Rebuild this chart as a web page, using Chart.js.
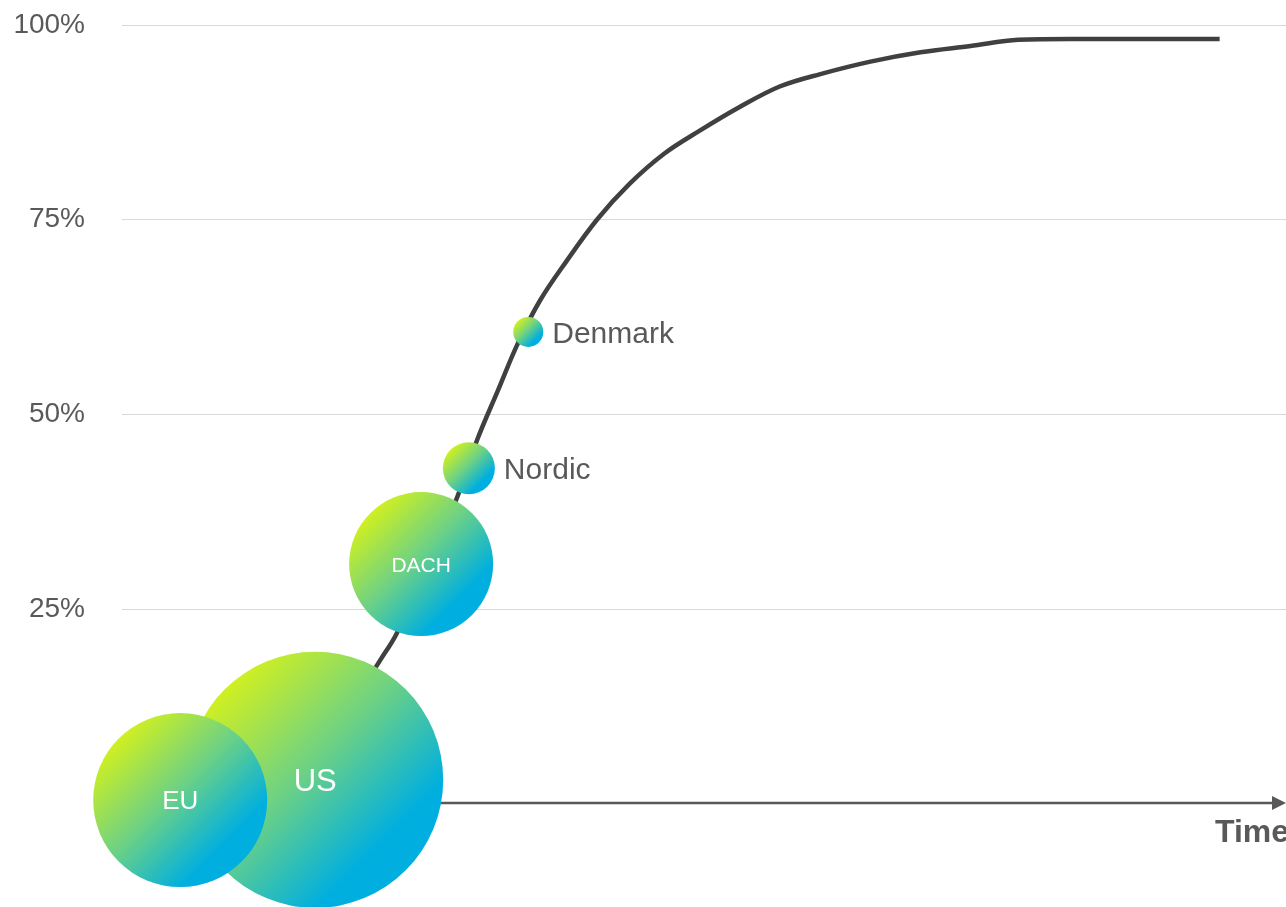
<!DOCTYPE html>
<html>
<head>
<meta charset="utf-8">
<script src="https://cdn.jsdelivr.net/npm/chart.js@4.4.1/dist/chart.umd.min.js"></script>
<style>
  html, body { margin: 0; padding: 0; background: #ffffff; }
  #wrap { width: 1286px; height: 907px; }
</style>
</head>
<body>
<div id="wrap"><canvas id="curva" width="1286" height="907"></canvas></div>
<script>
// Mercados (burbujas)
const regiones = ['US', 'EU', 'DACH', 'Nordic', 'Denmark'];
const regionTiempo = [16.6, 5.0, 25.7, 29.8, 34.9];
const regionCobertura = [3.1, 0.5, 30.8, 43.1, 60.6];
const regionTamano = [128, 87, 72, 26, 15];

// Curva de adopción
const curvaTiempo = [20.7, 22.2, 23.6, 26.3, 28.8, 30.5, 32.3, 34.0, 35.9, 38.1, 40.8, 43.6, 46.6, 49.6, 53.1, 56.5, 60.0, 64.3, 68.6, 72.9, 77.0, 85.6, 94.3];
const curvaCobertura = [15.0, 18.5, 21.9, 30.9, 39.4, 46.7, 53.1, 59.1, 64.6, 69.5, 75.0, 79.6, 83.5, 86.4, 89.5, 92.1, 93.7, 95.3, 96.5, 97.3, 98.1, 98.2, 98.2];

// Eje Y
const ticksY = [25, 50, 75, 100];
const etiquetasY = ['25%', '50%', '75%', '100%'];
const tituloX = 'Time';

const gris = '#595959';
const fuente = '"Liberation Sans", Arial, sans-serif';

// degradado por burbuja (verde lima -> azul)
function degradado(context) {
  const chart = context.chart;
  if (!chart.chartArea || context.raw == null) return '#5ccb90';
  const cx = chart.scales.x.getPixelForValue(context.raw.x);
  const cy = chart.scales.y.getPixelForValue(context.raw.y);
  const r = context.raw.r * 0.72;
  const g = chart.ctx.createLinearGradient(cx - r, cy - r, cx + r, cy + r);
  g.addColorStop(0, '#d2f01f');
  g.addColorStop(0.45, '#6cd185');
  g.addColorStop(0.85, '#00afdf');
  g.addColorStop(1, '#00aee0');
  return g;
}

// flecha del eje X y título "Time"
const ejeFlecha = {
  id: 'ejeFlecha',
  beforeDatasetsDraw(chart) {
    const ctx = chart.ctx;
    const y0 = chart.scales.y.getPixelForValue(0) - 1;
    const x0 = chart.chartArea.left;
    const x1 = chart.width;
    ctx.save();
    ctx.strokeStyle = gris;
    ctx.fillStyle = gris;
    ctx.lineWidth = 2.5;
    ctx.beginPath();
    ctx.moveTo(x0, y0);
    ctx.lineTo(x1 - 10, y0);
    ctx.stroke();
    ctx.beginPath();
    ctx.moveTo(x1, y0);
    ctx.lineTo(x1 - 14, y0 - 7);
    ctx.lineTo(x1 - 14, y0 + 7);
    ctx.closePath();
    ctx.fill();
    ctx.font = 'bold 32px ' + fuente;
    ctx.textAlign = 'left';
    ctx.textBaseline = 'alphabetic';
    ctx.fillText(tituloX, x1 - 71, y0 + 39);
    ctx.restore();
  }
};

// nombres de las regiones
const tamanoTexto = { US: 31, EU: 26, DACH: 21 };
const etiquetasRegion = {
  id: 'etiquetasRegion',
  afterDatasetsDraw(chart) {
    const ctx = chart.ctx;
    const meta = chart.getDatasetMeta(0);
    ctx.save();
    meta.data.forEach((el, i) => {
      const nombre = regiones[i];
      const r = regionTamano[i];
      ctx.textBaseline = 'alphabetic';
      if (r > 40) {
        const s = tamanoTexto[nombre] || 24;
        ctx.font = s + 'px ' + fuente;
        ctx.fillStyle = '#ffffff';
        ctx.textAlign = 'center';
        ctx.fillText(nombre, el.x, el.y + s * 0.36);
      } else {
        ctx.font = '30px ' + fuente;
        ctx.fillStyle = gris;
        ctx.textAlign = 'left';
        ctx.fillText(nombre, el.x + r + 9, el.y + 30 * 0.36);
      }
    });
    ctx.restore();
  }
};

new Chart(document.getElementById('curva').getContext('2d'), {
  data: {
    datasets: [
      {
        type: 'bubble',
        order: 0,
        clip: false,
        data: regiones.map((n, i) => ({ x: regionTiempo[i], y: regionCobertura[i], r: regionTamano[i] })),
        backgroundColor: degradado,
        borderWidth: 0
      },
      {
        type: 'line',
        order: 1,
        data: curvaTiempo.map((t, i) => ({ x: t, y: curvaCobertura[i] })),
        borderColor: '#404040',
        borderWidth: 4.5,
        pointRadius: 0,
        fill: false,
        tension: 0.35
      }
    ]
  },
  options: {
    responsive: false,
    animation: false,
    events: [],
    layout: { autoPadding: false, padding: { top: 25, right: 0, bottom: 103, left: 0 } },
    plugins: {
      legend: { display: false },
      tooltip: { enabled: false }
    },
    scales: {
      x: { type: 'linear', min: 0, max: 100, display: false },
      y: {
        type: 'linear',
        min: 0,
        max: 100,
        afterBuildTicks: (scale) => { scale.ticks = ticksY.map(v => ({ value: v })); },
        afterFit: (scale) => {
          scale.width = 122;
          scale.paddingTop = 0;
          scale.paddingBottom = 0;
        },
        border: { display: false },
        grid: { color: '#d9d9d9', lineWidth: 1, drawTicks: false },
        ticks: {
          padding: 37,
          color: gris,
          font: { family: fuente, size: 28 },
          callback: (v) => etiquetasY[ticksY.indexOf(v)]
        }
      }
    }
  },
  plugins: [ejeFlecha, etiquetasRegion]
});
</script>
</body>
</html>
